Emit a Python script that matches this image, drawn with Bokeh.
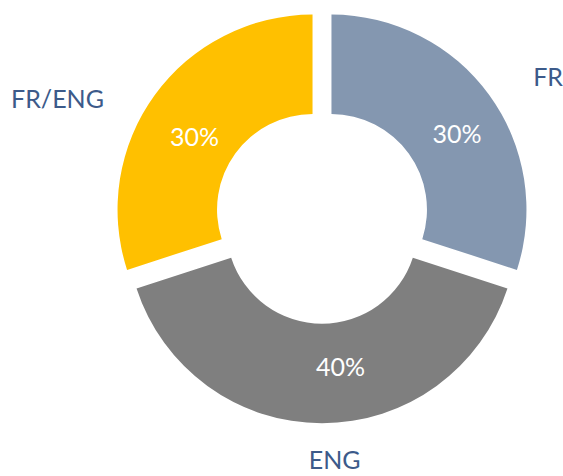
import math
from bokeh.plotting import figure
from bokeh.models import Range1d, ColumnDataSource
from bokeh.core.properties import value
from bokeh.embed import file_html
from bokeh.resources import INLINE

# ---- data ----
categories = ["FR", "ENG", "FR/ENG"]
shares = [30, 40, 30]
colors = ["#8497B0", "#7F7F7F", "#FFC000"]

# ---- layout / style ----
W, H = 563, 476
CX, CY = 321.5, 216.0          # donut centre within the canvas (pixels from top-left)
R_OUT, R_IN = 195.0, 95.5
EXPLODE = 11.7
FONT = value("Lato")
LABEL_COLOR = "#3C5A8A"
# label anchors: (clockwise angle from top in degrees, radius) relative to donut centre
pct_anchor = [(58.2, 159), (173.0, 151), (302.4, 151)]
cat_anchor = [(58.2, 266), (177.0, 243), (294.2, 290)]

p = figure(width=W, height=H, output_backend="svg", toolbar_location=None,
           x_range=Range1d(-CX, W - CX), y_range=Range1d(-(H - CY), CY),
           min_border=0, outline_line_color=None)
p.axis.visible = False
p.grid.visible = False

total = float(sum(shares))
xs, ys, starts, ends = [], [], [], []
acc = 0.0
for s in shares:
    t1 = acc / total * 360.0
    t2 = (acc + s) / total * 360.0
    mid = math.radians((t1 + t2) / 2)
    xs.append(EXPLODE * math.sin(mid))
    ys.append(EXPLODE * math.cos(mid))
    starts.append(math.radians(90 - t1))
    ends.append(math.radians(90 - t2))
    acc += s

src = ColumnDataSource(dict(x=xs, y=ys, start=starts, end=ends, color=colors))
p.annular_wedge(x="x", y="y", inner_radius=R_IN, outer_radius=R_OUT,
                start_angle="start", end_angle="end", direction="clock",
                fill_color="color", line_color=None, source=src)

def anchor_xy(anchors):
    ax = [r * math.sin(math.radians(a)) for a, r in anchors]
    ay = [r * math.cos(math.radians(a)) for a, r in anchors]
    return ax, ay

px, py = anchor_xy(pct_anchor)
p.text(x=px, y=py, text=[f"{s}%" for s in shares], text_color="white",
       text_font=FONT, text_font_size="25px", text_align="center",
       text_baseline="middle")

qx, qy = anchor_xy(cat_anchor)
p.text(x=qx, y=qy, text=categories, text_color=LABEL_COLOR,
       text_font=FONT, text_font_size="25px", text_align="center",
       text_baseline="middle")

open("out.html", "w").write(file_html(p, INLINE))
